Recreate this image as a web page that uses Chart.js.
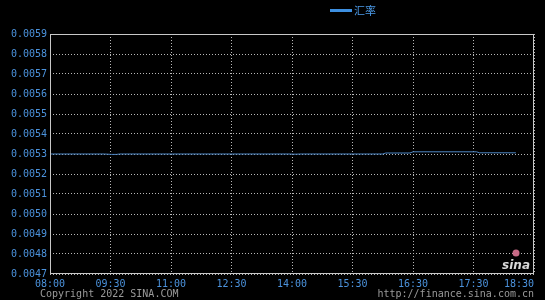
<!DOCTYPE html>
<html>
<head>
<meta charset="utf-8">
<script src="https://cdn.jsdelivr.net/npm/chart.js@4/dist/chart.umd.min.js"></script>
<style>
  html, body { margin: 0; padding: 0; background: #000; }
  #wrap { width: 545px; height: 300px; position: relative; }
</style>
</head>
<body>
<div id="wrap"><canvas id="rateChart"></canvas></div>
<script>
// x axis labels (equally spaced on the sina chart)
var timeLabels = ['08:00', '09:30', '11:00', '12:30', '14:00', '15:30', '16:30', '17:30', '18:30'];
// x position in label slots, y exchange rate
var rateX = [0, 0.9, 1.02, 1.1, 1.15, 3.95, 4.05, 4.15, 5.5, 5.55, 5.95, 6.0, 7.05, 7.1, 7.7];
var rateY = [0.0053, 0.0053, 0.005298, 0.005298, 0.0053, 0.0053, 0.005299, 0.0053, 0.0053, 0.005305, 0.005305, 0.005311, 0.005311, 0.005306, 0.005306];
var yMin = 0.0047, yMax = 0.0059;

var mono = '"DejaVu Sans Mono", monospace';
var tickBlue = '#4b92dc';

var points = rateX.map(function (x, i) { return { x: x, y: rateY[i] }; });

var sinaDecor = {
    id: 'sinaDecor',
    afterDraw: function (chart) {
        var ctx = chart.ctx, a = chart.chartArea;
        ctx.save();
        ctx.strokeStyle = '#c8c8c8';
        ctx.lineWidth = 1;
        ctx.strokeRect(Math.round(a.left) + 0.5, Math.round(a.top) + 0.5,
            Math.round(a.right - a.left) - 1, Math.round(a.bottom - a.top) - 1);

        // legend
        ctx.fillStyle = '#3d8fe0';
        ctx.fillRect(330, 9, 22, 3);
        ctx.font = '11px "Noto Sans CJK SC"';
        ctx.textBaseline = 'middle';
        ctx.fillStyle = '#4b9ae8';
        ctx.fillText('汇率', 354, 11);

        // footer
        ctx.font = '10px ' + mono;
        ctx.fillStyle = '#9a9a9a';
        ctx.textAlign = 'left';
        ctx.fillText('Copyright 2022 SINA.COM', 40, 294);
        ctx.textAlign = 'right';
        ctx.fillText('http://finance.sina.com.cn', 534, 294);

        // logo
        ctx.font = 'italic bold 12px "DejaVu Sans"';
        ctx.fillStyle = '#d8d8d8';
        ctx.fillText('sina', 530, 266);
        ctx.fillStyle = '#c86a86';
        ctx.beginPath();
        ctx.arc(516, 253, 3.5, 0, Math.PI * 2);
        ctx.fill();
        ctx.restore();
    }
};

new Chart('rateChart', {
    type: 'line',
    data: {
        datasets: [{
            label: '汇率',
            data: points,
            borderColor: '#4d86c4',
            backgroundColor: '#3d8fe0',
            borderWidth: 1,
            pointRadius: 0,
            tension: 0
        }]
    },
    options: {
        responsive: true,
        maintainAspectRatio: false,
        animation: false,
        layout: { padding: { top: 34, right: 11, left: 0, bottom: 0 } },
        plugins: { legend: { display: false }, tooltip: { enabled: false } },
        scales: {
            x: {
                type: 'linear',
                min: 0,
                max: timeLabels.length - 1,
                afterFit: function (s) { s.height = 26; s.paddingLeft = 0; s.paddingRight = 0; },
                ticks: {
                    stepSize: 1,
                    padding: 4,
                    autoSkip: false,
                    color: tickBlue,
                    font: { family: mono, size: 10 },
                    maxRotation: 0,
                    callback: function (v) {
                        // last label sits inside the plot edge
                        return v === timeLabels.length - 1 ? timeLabels[v] + '     ' : timeLabels[v];
                    }
                },
                grid: { color: '#b8b8b8', drawTicks: false },
                border: { display: false, dash: [1, 2] }
            },
            y: {
                min: yMin,
                max: yMax,
                afterFit: function (s) { s.width = 50; },
                ticks: {
                    stepSize: 0.0001,
                    padding: 3,
                    autoSkip: false,
                    color: tickBlue,
                    font: { family: mono, size: 10 },
                    callback: function (v) { return v.toFixed(4); }
                },
                grid: { color: '#b8b8b8', drawTicks: false },
                border: { display: false, dash: [1, 2] }
            }
        }
    },
    plugins: [sinaDecor]
});
</script>
</body>
</html>
